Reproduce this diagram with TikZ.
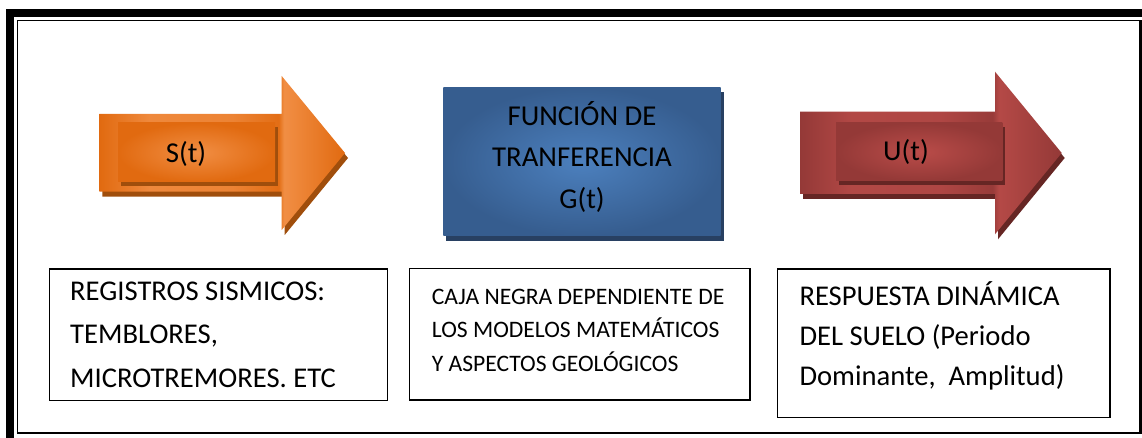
\documentclass[tikz,border=0pt]{standalone}
\usepackage{fontspec}
\setmainfont{Carlito}
\definecolor{orD}{RGB}{225,106,16}
\definecolor{orL}{RGB}{241,142,68}
\definecolor{orS}{RGB}{160,78,12}
\definecolor{blD}{RGB}{54,93,143}
\definecolor{blL}{RGB}{76,128,190}
\definecolor{blS}{RGB}{40,64,98}
\definecolor{rdD}{RGB}{148,57,55}
\definecolor{rdL}{RGB}{186,76,73}
\definecolor{rdS}{RGB}{102,38,36}
\pgfdeclarehorizontalshading{orarrow}{100bp}{color(0bp)=(orD); color(25bp)=(orD); color(35bp)=(orL!85!orD); color(52bp)=(orL!70!orD); color(61.5bp)=(orD!90!orL); color(62.6bp)=(orL); color(75bp)=(orD); color(100bp)=(orD)}
\pgfdeclarehorizontalshading{rdarrow}{100bp}{color(0bp)=(rdD); color(25bp)=(rdD); color(35bp)=(rdL!80!rdD); color(52bp)=(rdL!70!rdD); color(61.8bp)=(rdD!90!rdL); color(63bp)=(rdL!85!rdD); color(75bp)=(rdD); color(100bp)=(rdD)}
\tikzset{
  lbl/.style={inner sep=0pt, font=\fontsize{28.8}{34}\selectfont, anchor=base},
  boxtxt/.style={inner sep=0pt, font=\fontsize{28.6}{34}\selectfont, anchor=base west},
  smalltxt/.style={inner sep=0pt, font=\fontsize{23.6}{28}\selectfont, anchor=base west},
  infobox/.style={draw, line width=1.4pt, inner sep=0pt},
}
\begin{document}
\begin{tikzpicture}[x=1pt,y=-1pt]
\useasboundingbox (0,0) rectangle (1142,438);
% frame
\fill[black] (6,9) rectangle (1142,16.6);
\fill[black] (6,9) rectangle (13.8,438);
\draw[line width=1.6pt] (17.4,433.2) -- (17.4,20.5) -- (1142,20.5);
\draw[line width=2pt] (17.4,433.2) -- (1142,433.2);
\draw[line width=2.7pt] (1140.6,20.5) -- (1140.6,433.2);

% orange arrow S(t)
\fill[orS, shift={(3,5)}] (99.3,114) -- (281.7,114) -- (281.7,76) -- (345,153) -- (281.7,230) -- (281.7,191.7) -- (99.3,191.7) -- cycle;
\shade[shading=orarrow] (99.3,114) -- (281.7,114) -- (281.7,76) -- (345,153) -- (281.7,230) -- (281.7,191.7) -- (99.3,191.7) -- cycle;
\fill[orS] (120.5,127) rectangle (277.5,186);
\shade[inner color=orL, outer color=orD] (118,123) rectangle (275,182);
\node[lbl] (s) at (186,163) {S(t)};

% blue box G(t)
\fill[blS] (446.3,92.3) rectangle (723.7,240.7);
\shade[inner color=blL, outer color=blD] (443.3,87.3) rectangle (720.7,235.7);
\node[lbl] (g1) at (582,125.5) {FUNCIÓN DE};
\node[lbl] (g2) at (582,167) {TRANFERENCIA};
\node[lbl] (g3) at (582,208.5) {G(t)};

% red arrow U(t)
\fill[rdS, shift={(3,5)}] (800,111.7) -- (995,111.7) -- (995,71.7) -- (1061.7,153) -- (995,234.3) -- (995,194) -- (800,194) -- cycle;
\shade[shading=rdarrow] (800,111.7) -- (995,111.7) -- (995,71.7) -- (1061.7,153) -- (995,234.3) -- (995,194) -- (800,194) -- cycle;
\fill[rdS] (838.5,126.7) rectangle (1004.8,185);
\shade[inner color=rdL, outer color=rdD] (836,122.7) rectangle (1002.3,181);
\node[lbl] (u) at (906,161) {U(t)};

% bottom boxes
\node[infobox, minimum width=338.4pt, minimum height=131.7pt] (box1) at (218.5,334.9) {};
\node[boxtxt] (b1a) at (70,300.2) {REGISTROS SISMICOS:};
\node[boxtxt] (b1b) at (70,343.6) {TEMBLORES,};
\node[boxtxt] (b1c) at (70,387) {MICROTREMORES. ETC};

\node[infobox, minimum width=340.7pt, minimum height=131.7pt] (box2) at (579.7,334.2) {};
\node[smalltxt] (b2a) at (431.7,304.2) {CAJA NEGRA DEPENDIENTE DE};
\node[smalltxt] (b2b) at (431.7,337.7) {LOS MODELOS MATEMÁTICOS};
\node[smalltxt] (b2c) at (431.7,371.2) {Y ASPECTOS GEOLÓGICOS};

\node[infobox, minimum width=332.7pt, minimum height=148.7pt] (box3) at (943.7,343.4) {};
\node[boxtxt] (b3a) at (799.3,305.8) {RESPUESTA DINÁMICA};
\node[boxtxt] (b3b) at (799.3,345.8) {DEL SUELO (Periodo};
\node[boxtxt] (b3c) at (799.3,385.8) {Dominante,\ \ Amplitud)};
\end{tikzpicture}
\end{document}
